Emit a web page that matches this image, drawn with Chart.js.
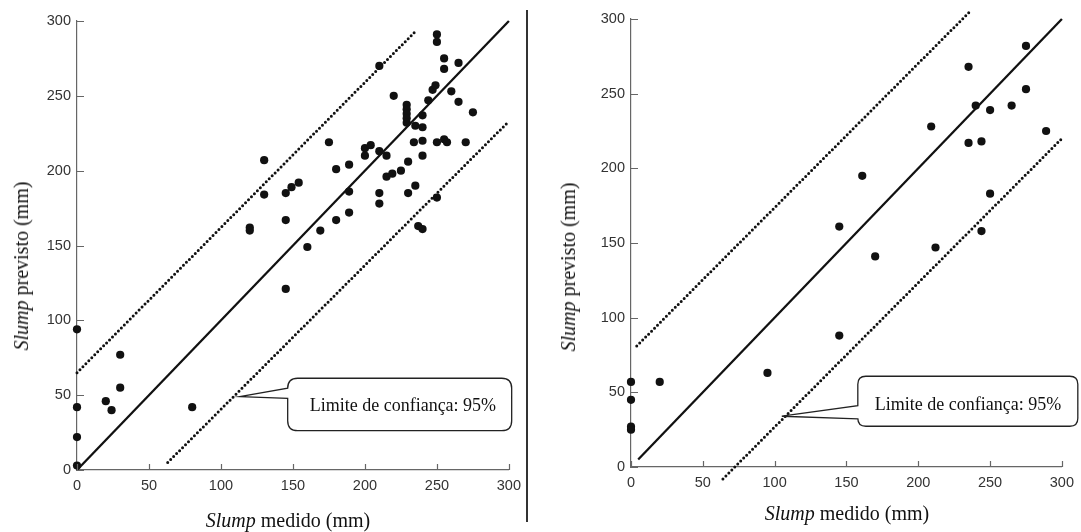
<!DOCTYPE html>
<html>
<head>
<meta charset="utf-8">
<script src="https://cdn.jsdelivr.net/npm/chart.js@4.4.0/dist/chart.umd.min.js"></script>
<style>
  html, body { margin: 0; padding: 0; background: #fff; }
  body { width: 1081px; height: 532px; position: relative; overflow: hidden; font-family: "Liberation Serif", serif; }
  canvas { position: absolute; top: 0; }
  #leftChart { left: 0; }
  #rightChart { left: 540px; }
  .xtitle, .ytitle { position: absolute; font-size: 20px; line-height: 20px; color: #111; white-space: nowrap; }
  .xtitle { transform: translateX(-50%); }
  .ytitle { transform: translate(-50%, -50%) rotate(-90deg); }
  #divider { position: absolute; left: 526px; top: 10px; width: 2px; height: 512px; background: #333; }
</style>
</head>
<body>
<canvas id="leftChart" width="528" height="532"></canvas>
<canvas id="rightChart" width="541" height="532"></canvas>
<div id="divider"></div>
<div class="xtitle" style="left:288px; top:510px;"><i>Slump</i> medido (mm)</div>
<div class="xtitle" style="left:847px; top:503px;"><i>Slump</i> medido (mm)</div>
<div class="ytitle" style="left:21px; top:266px;"><i>Slump</i> previsto (mm)</div>
<div class="ytitle" style="left:568px; top:267px;"><i>Slump</i> previsto (mm)</div>
<script>
// left panel: measured vs predicted slump
const leftMeasured = [0, 0, 0, 0, 20, 24, 30, 30, 80, 120, 120, 130, 130, 145, 149, 154, 145, 145, 160, 169,
  175, 180, 180, 189, 189, 189, 200, 204, 200, 210, 210, 210, 210, 215, 215, 219, 220, 225, 230, 230,
  229, 229, 229, 229, 229, 235, 235, 234, 237, 240, 240, 240, 240, 240, 244, 247, 249, 250, 250, 250,
  250, 255, 255, 255, 257, 260, 265, 265, 270, 275];
const leftPredicted = [94, 42, 22, 3, 46, 40, 77, 55, 42, 162, 160, 207, 184, 185, 189, 192, 167, 121, 149, 160,
  219, 201, 167, 204, 186, 172, 215, 217, 210, 213, 185, 178, 270, 210, 196, 198, 250, 200, 206, 185,
  244, 241, 238, 235, 232, 230, 190, 219, 163, 161, 237, 229, 220, 210, 247, 254, 257, 291, 286, 219,
  182, 275, 268, 221, 219, 253, 272, 246, 219, 239];

// right panel
const rightMeasured = [0, 0, 0, 0, 20, 95, 145, 145, 161, 170, 209, 212, 235, 235, 240, 244, 244, 250, 250, 265, 275, 275, 289];
const rightPredicted = [57, 45, 27, 25, 57, 63, 161, 88, 195, 141, 228, 147, 268, 217, 242, 218, 158, 239, 183, 242, 282, 253, 225];

// y = x line and 95% band ends, [x0, x1] / [y0, y1]
const leftLineX = [0, 300],  leftLineY = [0, 300];
const leftUpperX = [0, 235], leftUpperY = [65, 293];
const leftLowerX = [63, 300], leftLowerY = [5, 233];
const rightLineX = [5, 300],  rightLineY = [5, 300];
const rightUpperX = [4, 237], rightUpperY = [81, 306];
const rightLowerX = [64, 300], rightLowerY = [-8, 220];

const tickValues = [0, 50, 100, 150, 200, 250, 300];
const calloutText = 'Limite de confiança: 95%';

const toPoints = (xs, ys) => xs.map((v, i) => ({ x: v, y: ys[i] }));

// tick marks point into the plot
const innerTicks = {
  id: 'innerTicks',
  afterDraw(chart) {
    const { ctx, chartArea, scales: { x, y } } = chart;
    ctx.save();
    ctx.strokeStyle = '#666';
    ctx.lineWidth = 1.2;
    ctx.beginPath();
    x.ticks.forEach(t => {
      const px = Math.round(x.getPixelForValue(t.value)) + 0.5;
      ctx.moveTo(px, chartArea.bottom);
      ctx.lineTo(px, chartArea.bottom - 6);
    });
    y.ticks.forEach(t => {
      const py = Math.round(y.getPixelForValue(t.value)) + 0.5;
      ctx.moveTo(chartArea.left, py);
      ctx.lineTo(chartArea.left + 7, py);
    });
    ctx.stroke();
    ctx.restore();
  }
};

// speech-bubble label pointing at the lower band
const callout = {
  id: 'callout',
  afterDraw(chart, args, o) {
    const { ctx, scales: { x, y } } = chart;
    const tx = x.getPixelForValue(o.tip[0]), ty = y.getPixelForValue(o.tip[1]);
    const L = tx + o.left, R = tx + o.right, T = ty + o.top, B = ty + o.bottom, r = o.radius;
    ctx.save();
    ctx.fillStyle = '#fff';
    ctx.strokeStyle = '#222';
    ctx.lineWidth = 1.3;
    ctx.beginPath();
    ctx.moveTo(tx, ty);
    ctx.lineTo(L, ty + o.joinTop);
    ctx.lineTo(L, T + r);
    ctx.quadraticCurveTo(L, T, L + r, T);
    ctx.lineTo(R - r, T);
    ctx.quadraticCurveTo(R, T, R, T + r);
    ctx.lineTo(R, B - r);
    ctx.quadraticCurveTo(R, B, R - r, B);
    ctx.lineTo(L + r, B);
    ctx.quadraticCurveTo(L, B, L, B - r);
    ctx.lineTo(L, ty + o.joinBottom);
    ctx.closePath();
    ctx.fill();
    ctx.stroke();
    ctx.fillStyle = '#111';
    ctx.font = '18px "Liberation Serif"';
    ctx.textBaseline = 'alphabetic';
    ctx.fillText(calloutText, L + o.textDx, ty + o.textDy);
    ctx.restore();
  }
};

function axis(pos, size) {
  return {
    type: 'linear',
    position: pos,
    min: 0,
    max: 300,
    afterBuildTicks: s => { s.ticks = tickValues.map(v => ({ value: v })); },
    afterFit: s => { if (pos === 'left') s.width = size; else s.height = size; },
    grid: { drawOnChartArea: false, drawTicks: false },
    border: { display: true, color: '#666', width: 1.2 },
    ticks: {
      padding: pos === 'left' ? 6 : 7,
      color: '#333',
      font: { family: '"Liberation Sans", Arial, sans-serif', size: 14.5 }
    }
  };
}

function makeChart(id, measured, predicted, lines, opts) {
  const [lx, ly, ux, uy, dx, dy] = lines;
  const dotted = { borderColor: '#111', borderWidth: 3, borderDash: [0, 4.2], borderCapStyle: 'round' };
  return new Chart(document.getElementById(id), {
    type: 'scatter',
    data: {
      datasets: [
        { data: toPoints(measured, predicted), backgroundColor: '#111', borderWidth: 0, pointRadius: 4.1, clip: false },
        { data: toPoints(lx, ly), showLine: true, pointRadius: 0, borderColor: '#111', borderWidth: 2.3, clip: false },
        Object.assign({ data: toPoints(ux, uy), showLine: true, pointRadius: 0, clip: false }, dotted),
        Object.assign({ data: toPoints(dx, dy), showLine: true, pointRadius: 0, clip: false }, dotted)
      ]
    },
    options: {
      responsive: false,
      animation: false,
      devicePixelRatio: 1,
      layout: { padding: opts.padding },
      scales: { x: axis('bottom', opts.xHeight), y: axis('left', opts.yWidth) },
      plugins: { legend: { display: false }, tooltip: { enabled: false }, callout: opts.callout }
    },
    plugins: [innerTicks, callout]
  });
}

makeChart('leftChart', leftMeasured, leftPredicted,
  [leftLineX, leftLineY, leftUpperX, leftUpperY, leftLowerX, leftLowerY], {
    padding: { left: 0, top: 21, right: 16, bottom: 22 },
    xHeight: 40, yWidth: 77,
    callout: { tip: [113, 49], left: 48, right: 272, top: -18.4, bottom: 34, radius: 10,
      joinTop: -8.4, joinBottom: 1.6, textDx: 22, textDy: 14 }
  });

makeChart('rightChart', rightMeasured, rightPredicted,
  [rightLineX, rightLineY, rightUpperX, rightUpperY, rightLowerX, rightLowerY], {
    padding: { left: 0, top: 19, right: 18, bottom: 20 },
    xHeight: 45, yWidth: 91,
    callout: { tip: [105, 34], left: 76, right: 296, top: -40, bottom: 10, radius: 8,
      joinTop: -10.5, joinBottom: 2.6, textDx: 17, textDy: -6 }
  });
</script>
</body>
</html>
